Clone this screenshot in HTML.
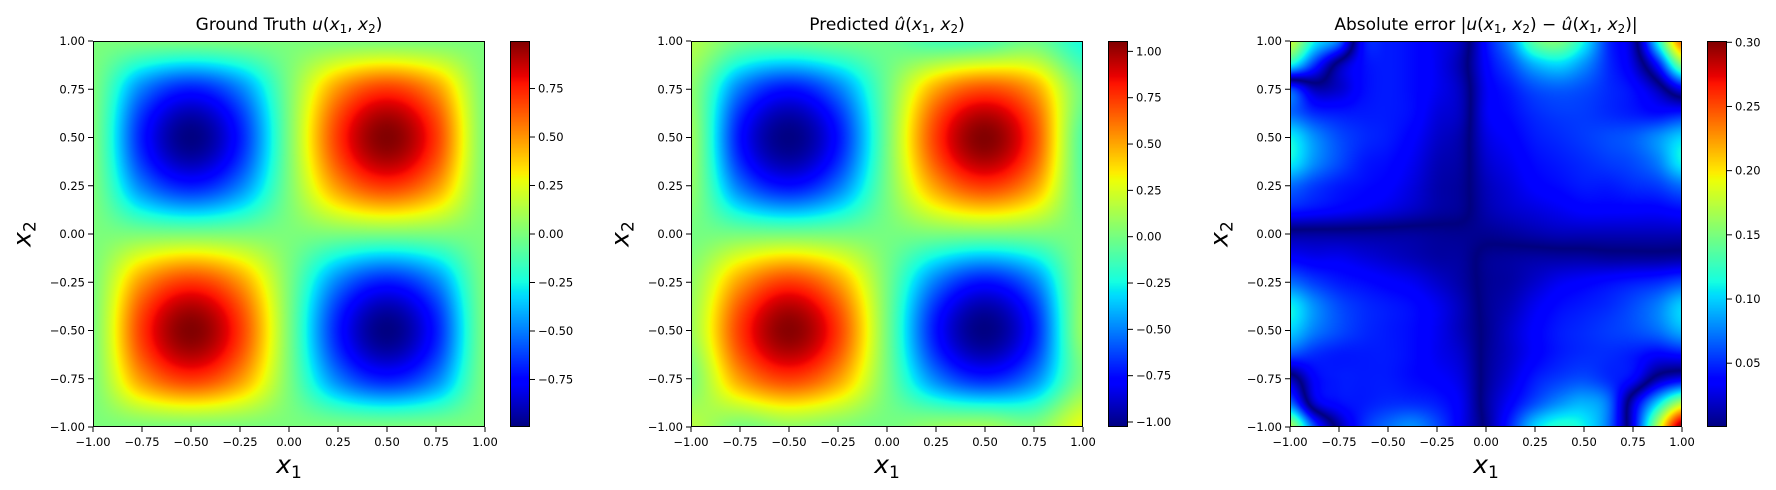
<!DOCTYPE html>
<html><head><meta charset="utf-8">
<style>
html,body{margin:0;padding:0;background:#fff;}
#root{position:relative;width:1776px;height:490px;overflow:hidden;font-family:"DejaVu Sans","Liberation Sans",sans-serif;}
canvas{position:absolute;}
svg{position:absolute;left:0;top:0;}
.title{position:absolute;font-size:17px;white-space:nowrap;transform:translateX(-50%);top:15px;color:#000;}
.title sub{font-size:12px;vertical-align:-3px;line-height:0;}
.xl{position:absolute;font-size:25px;font-style:italic;transform:translateX(-50%);top:450px;white-space:nowrap;}
.yl{position:absolute;font-size:25px;font-style:italic;transform:translate(-50%,-50%) rotate(-90deg);top:234px;white-space:nowrap;}
.xl sub,.yl sub{font-size:17px;vertical-align:-5px;line-height:0;font-style:normal;}
</style></head><body>
<div id="root">
<canvas id="c0"></canvas>
<canvas id="c1"></canvas>
<canvas id="c2"></canvas>
<canvas id="b0"></canvas>
<canvas id="b1"></canvas>
<canvas id="b2"></canvas>
<svg id="ov" width="1776" height="490"></svg>
<div class="title" style="left:289px">Ground Truth <i>u</i>(<i>x</i><sub>1</sub>, <i>x</i><sub>2</sub>)</div>
<div class="title" style="left:887px">Predicted <i>û</i>(<i>x</i><sub>1</sub>, <i>x</i><sub>2</sub>)</div>
<div class="title" style="left:1486px">Absolute error |<i>u</i>(<i>x</i><sub>1</sub>, <i>x</i><sub>2</sub>) − <i>û</i>(<i>x</i><sub>1</sub>, <i>x</i><sub>2</sub>)|</div>
<div class="xl" style="left:289px">x<sub>1</sub></div>
<div class="xl" style="left:887px">x<sub>1</sub></div>
<div class="xl" style="left:1486px">x<sub>1</sub></div>
<div class="yl" style="left:22px">x<sub>2</sub></div>
<div class="yl" style="left:620px">x<sub>2</sub></div>
<div class="yl" style="left:1219px">x<sub>2</sub></div>
</div>
<script>
// ---- data (rows: x2 from 1 down to -1; cols: x1 from -1 to 1) ----
const axisTicks = [-1, -0.75, -0.5, -0.25, 0, 0.25, 0.5, 0.75, 1];
const axisTickLabels = ["−1.00","−0.75","−0.50","−0.25","0.00","0.25","0.50","0.75","1.00"];
const truthGrid = [
 [0,0,0,0,0,0,0,0,0],
 [0,-0.5,-0.7,-0.5,0,0.5,0.7,0.5,0],
 [0,-0.7,-0.99,-0.7,0,0.7,0.99,0.7,0],
 [0,-0.5,-0.7,-0.5,0,0.5,0.7,0.5,0],
 [0,0,0,0,0,0,0,0,0],
 [0,0.5,0.7,0.5,0,-0.5,-0.7,-0.5,0],
 [0,0.7,0.99,0.7,0,-0.7,-0.99,-0.7,0],
 [0,0.5,0.7,0.5,0,-0.5,-0.7,-0.5,0],
 [0,0,0,0,0,0,0,0,0]
];
const predGrid = [
 [0.15,-0.02,-0.04,-0.02,-0.03,-0.13,-0.12,-0.02,-0.24],
 [0.06,-0.52,-0.74,-0.52,-0.02,0.5,0.7,0.52,-0.02],
 [0.1,-0.74,-1.02,-0.74,-0.01,0.74,1.05,0.72,-0.1],
 [0.07,-0.53,-0.75,-0.53,0,0.52,0.74,0.52,-0.07],
 [0,0,0,0,0,0.01,0.01,0.01,0.01],
 [0.07,0.52,0.74,0.52,0,-0.52,-0.74,-0.52,0.06],
 [0.1,0.74,1.04,0.74,0,-0.74,-1.02,-0.72,0.09],
 [0.01,0.52,0.73,0.52,0,-0.5,-0.7,-0.5,0.02],
 [0.17,0.01,0.07,0.03,0,0.08,0.11,0.03,0.30]
];
const errorGrid = [
 [-.18,-.11,-.07,.04,.045,.04,.03,.015,-.04,-.08,-.14,-.15,-.11,-.05,-.015,.11,.24],
 [-.11,-.05,.01,.04,.045,.04,.03,.01,-.035,-.06,-.09,-.10,-.08,-.05,-.025,.04,.15],
 [.06,.015,.02,.04,.045,.04,.03,.015,-.03,-.045,-.06,-.065,-.06,-.05,-.04,-.015,.03],
 [.07,.05,.045,.045,.045,.04,.025,.015,-.03,-.04,-.05,-.055,-.055,-.05,-.045,-.04,-.045],
 [.11,.08,.06,.05,.045,.035,.02,.01,-.025,-.035,-.045,-.05,-.055,-.06,-.065,-.08,-.10],
 [.11,.08,.06,.045,.04,.03,.015,.008,-.02,-.03,-.04,-.045,-.05,-.055,-.06,-.075,-.11],
 [.07,.055,.045,.04,.035,.025,.012,.006,-.015,-.025,-.035,-.04,-.045,-.045,-.05,-.055,-.07],
 [.045,.04,.035,.03,.025,.018,.01,.005,-.012,-.02,-.025,-.03,-.035,-.035,-.035,-.035,-.04],
 [-.008,-.008,-.008,-.008,-.008,-.008,-.006,-.005,-.005,-.008,-.012,-.015,-.015,-.015,-.015,-.015,-.015],
 [-.035,-.03,-.03,-.025,-.02,-.015,-.01,-.008,.005,.008,.01,.01,.01,.008,.008,.008,.01],
 [-.07,-.055,-.045,-.04,-.035,-.03,-.02,-.01,.005,.01,.02,.03,.035,.04,.045,.05,.06],
 [-.11,-.08,-.06,-.05,-.045,-.04,-.03,-.015,.005,.015,.03,.04,.045,.05,.06,.075,.10],
 [-.10,-.075,-.06,-.05,-.045,-.04,-.03,-.015,.004,.02,.035,.045,.05,.055,.06,.07,.09],
 [-.06,-.05,-.045,-.045,-.045,-.04,-.03,-.02,.005,.02,.035,.045,.05,.05,.045,.035,.04],
 [.015,-.035,-.045,-.045,-.045,-.04,-.035,-.025,.006,.025,.045,.055,.06,.05,.035,-.01,-.03],
 [.07,-.02,-.04,-.045,-.05,-.05,-.045,-.03,.008,.035,.06,.08,.09,.07,-.02,-.10,-.17],
 [.17,.06,-.01,-.05,-.07,-.08,-.06,-.03,.005,.05,.10,.12,.11,.07,-.03,-.17,-.30]
];
const truthRange = [-0.995, 0.995];
const predRange = [-1.027, 1.056];
const errorRange = [0.0003, 0.301];
const truthCbarTicks = [-0.75,-0.5,-0.25,0,0.25,0.5,0.75];
const truthCbarLabels = ["−0.75","−0.50","−0.25","0.00","0.25","0.50","0.75"];
const predCbarTicks = [-1,-0.75,-0.5,-0.25,0,0.25,0.5,0.75,1];
const predCbarLabels = ["−1.00","−0.75","−0.50","−0.25","0.00","0.25","0.50","0.75","1.00"];
const errorCbarTicks = [0.05,0.1,0.15,0.2,0.25,0.3];
const errorCbarLabels = ["0.05","0.10","0.15","0.20","0.25","0.30"];

// ---- layout ----
const PL=[93,691,1290], TOP=41, W=392, H=386, CBO=417, CBW=20;
function jetChan(pts,t){for(let i=1;i<pts.length;i++){if(t<=pts[i][0]){const a=pts[i-1],b=pts[i];return a[1]+(b[1]-a[1])*(t-a[0])/(b[0]-a[0]);}}return pts[pts.length-1][1];}
const JR=[[0,0],[0.35,0],[0.66,1],[0.89,1],[1,0.5]],JG=[[0,0],[0.125,0],[0.375,1],[0.64,1],[0.91,0],[1,0]],JB=[[0,0.5],[0.11,1],[0.34,1],[0.65,0],[1,0]];
function jet(t){t=Math.max(0,Math.min(1,t));return [jetChan(JR,t)*255,jetChan(JG,t)*255,jetChan(JB,t)*255];}
function cr(p0,p1,p2,p3,t){return 0.5*((2*p1)+(-p0+p2)*t+(2*p0-5*p1+4*p2-p3)*t*t+(-p0+3*p1-3*p2+p3)*t*t*t);}
function sample(g,fx,fy){const n=g.length,m=g[0].length;const ix=Math.floor(fx),iy=Math.floor(fy);const tx=fx-ix,ty=fy-iy;
 const cl=(v,k)=>Math.max(0,Math.min(k-1,v));const rows=[];
 for(let j=-1;j<=2;j++){const r=g[cl(iy+j,n)];rows.push(cr(r[cl(ix-1,m)],r[cl(ix,m)],r[cl(ix+1,m)],r[cl(ix+2,m)],tx));}
 return cr(rows[0],rows[1],rows[2],rows[3],ty);}
const xScale=(k,v)=>PL[k]+(v+1)/2*W;
const yScale=v=>TOP+(1-v)/2*H;
function drawHeat(id,k,grid,range,absv){const c=document.getElementById(id);c.width=W;c.height=H;c.style.left=PL[k]+'px';c.style.top=TOP+'px';
 const ctx=c.getContext('2d');const img=ctx.createImageData(W,H);const n=grid.length-1,m=grid[0].length-1;
 for(let py=0;py<H;py++){const y=1-2*(py+0.5)/H;const fy=(1-y)/2*n;
  for(let px=0;px<W;px++){const x=-1+2*(px+0.5)/W;const fx=(x+1)/2*m;let v=sample(grid,fx,fy);if(absv)v=Math.abs(v);
   const col=jet((v-range[0])/(range[1]-range[0]));const o=(py*W+px)*4;img.data[o]=col[0];img.data[o+1]=col[1];img.data[o+2]=col[2];img.data[o+3]=255;}}
 ctx.putImageData(img,0,0);}
function drawBar(id,k){const c=document.getElementById(id);c.width=CBW;c.height=H;c.style.left=(PL[k]+CBO)+'px';c.style.top=TOP+'px';
 const ctx=c.getContext('2d');for(let py=0;py<H;py++){const col=jet(1-(py+0.5)/H);ctx.fillStyle=`rgb(${col[0]|0},${col[1]|0},${col[2]|0})`;ctx.fillRect(0,py,CBW,1);}}
drawHeat('c0',0,truthGrid,truthRange,false);
drawHeat('c1',1,predGrid,predRange,false);
drawHeat('c2',2,errorGrid,errorRange,true);
drawBar('b0',0);drawBar('b1',1);drawBar('b2',2);

const NS='http://www.w3.org/2000/svg';const ov=document.getElementById('ov');
function mk(tag,attrs){const e=document.createElementNS(NS,tag);for(const a in attrs)e.setAttribute(a,attrs[a]);ov.appendChild(e);return e;}
for(let k=0;k<3;k++){
 const fr=mk('rect',{x:PL[k]+0.5,y:TOP+0.5,width:W-1,height:H-1,fill:'none',stroke:'#000','stroke-width':1});
 
 
 axisTicks.forEach((v,i)=>{
  const x=xScale(k,v);
  const tl=mk('line',{x1:x,y1:TOP+H,x2:x,y2:TOP+H+5,stroke:'#000','stroke-width':1});
  
  
  const tx=mk('text',{x:x,y:TOP+H+19,'text-anchor':'middle','font-size':'11.5',fill:'#000'});
  
  
  tx.textContent=axisTickLabels[i];
  const y=yScale(v);
  const yl=mk('line',{x1:PL[k]-5,y1:y,x2:PL[k],y2:y,stroke:'#000','stroke-width':1});
  
  
  const ty=mk('text',{x:PL[k]-8,y:y+4,'text-anchor':'end','font-size':'11.5',fill:'#000'});
  
  
  ty.textContent=axisTickLabels[i];
 });
 const bx=PL[k]+CBO;
 const bf=mk('rect',{x:bx+0.5,y:TOP+0.5,width:CBW-1,height:H-1,fill:'none',stroke:'#000','stroke-width':1});
 
 
 const rng=[truthRange,predRange,errorRange][k],tk=[truthCbarTicks,predCbarTicks,errorCbarTicks][k],lb=[truthCbarLabels,predCbarLabels,errorCbarLabels][k];
 tk.forEach((v,i)=>{
  const y=TOP+H-(v-rng[0])/(rng[1]-rng[0])*H;
  const l=mk('line',{x1:bx+CBW,y1:y,x2:bx+CBW+5,y2:y,stroke:'#000','stroke-width':1});
  
  
  const t=mk('text',{x:bx+CBW+8,y:y+4,'font-size':'11.5',fill:'#000'});
  
  
  t.textContent=lb[i];
 });
}
</script>
</body></html>
